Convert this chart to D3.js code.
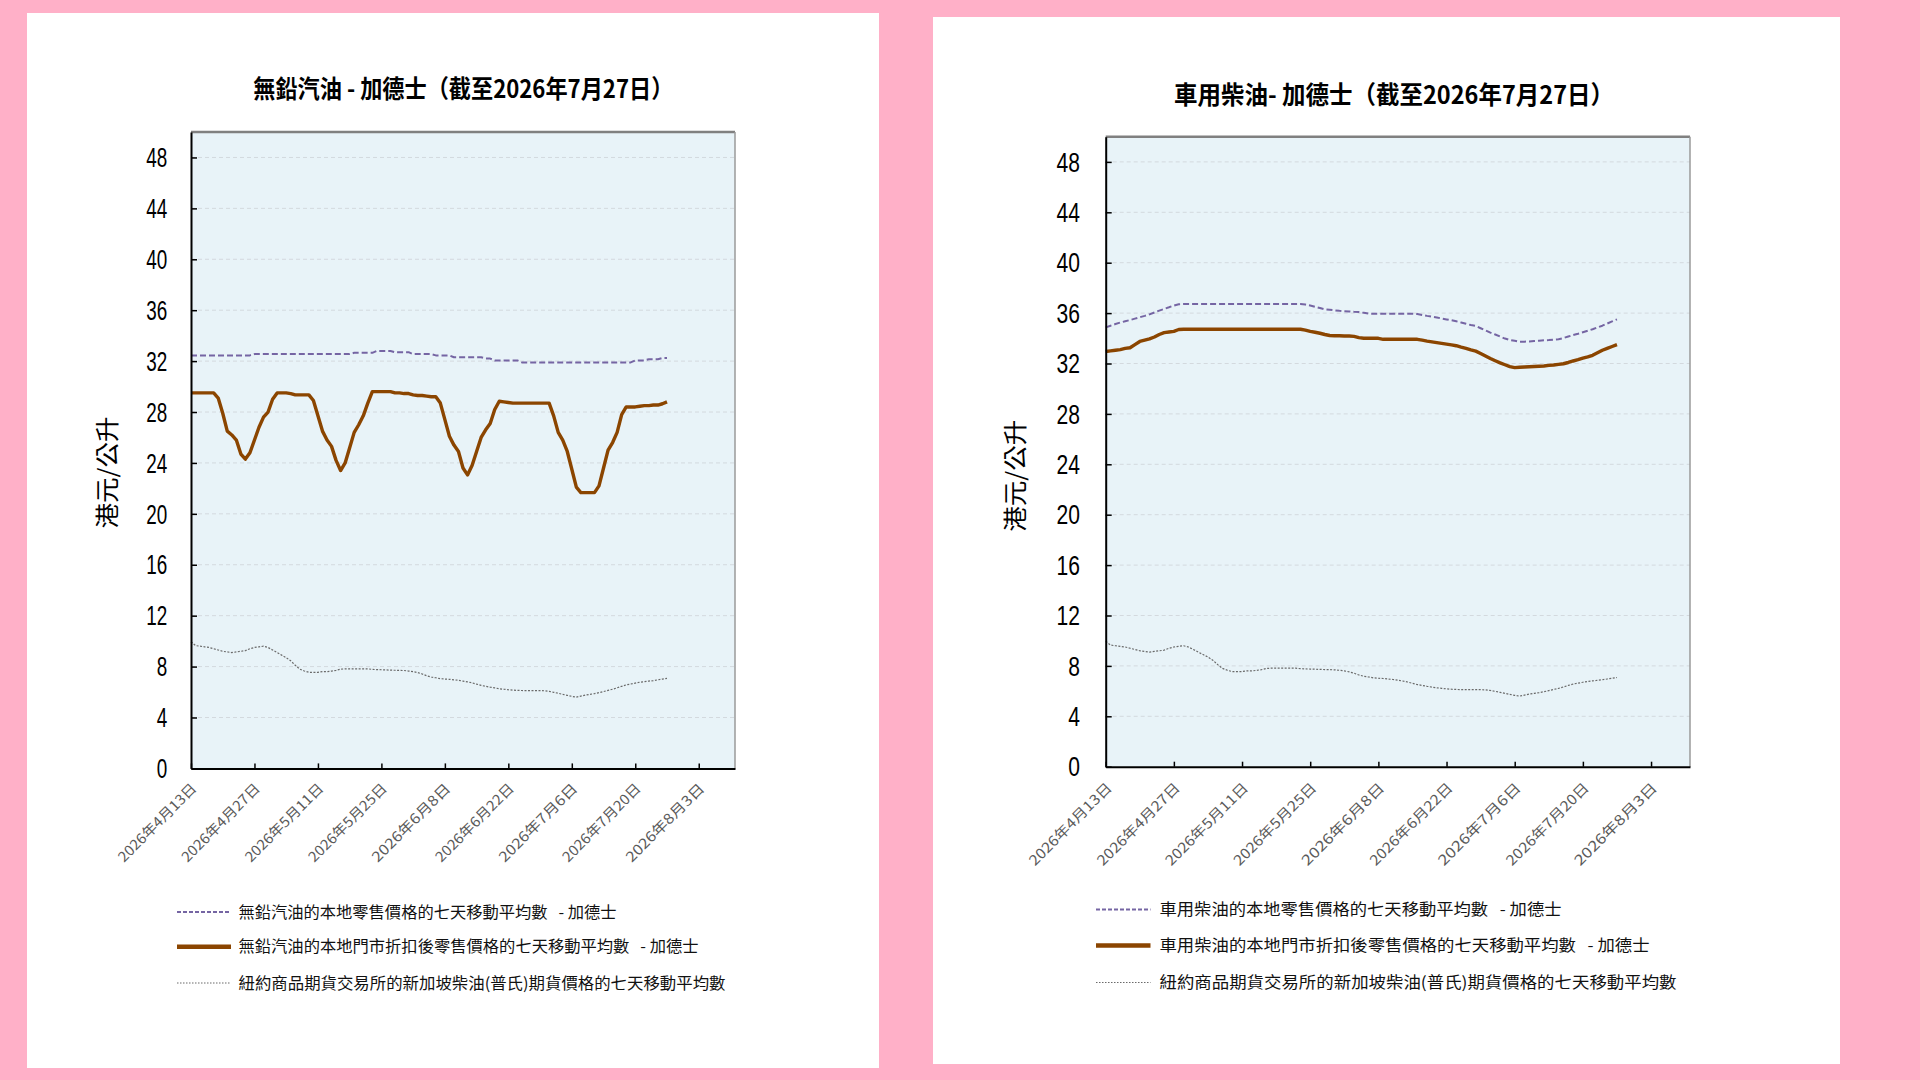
<!DOCTYPE html>
<html>
<head>
<meta charset="utf-8">
<script src="https://cdn.jsdelivr.net/npm/d3@7"></script>
<style>
  body { margin: 0; background: #ffb0c8; }
  svg { display: block; }
</style>
</head>
<body>
<div id="main"></div>
<script>
"use strict";

// ---- data ----
var dayDomain = ["2026-04-13", "2026-08-11"];
var firstDay = "2026-04-13", lastDay = "2026-07-27";
var tickDays = ["2026-04-13", "2026-04-27", "2026-05-11", "2026-05-25", "2026-06-08",
                "2026-06-22", "2026-07-06", "2026-07-20", "2026-08-03"];
var yTicks = [0, 4, 8, 12, 16, 20, 24, 28, 32, 36, 40, 44, 48];

var petrolRetail = [
  32.45, 32.45, 32.45, 32.45, 32.45, 32.45, 32.45, 32.45, 32.45, 32.45,
  32.45, 32.45, 32.45, 32.45, 32.55, 32.55, 32.55, 32.55, 32.55, 32.55,
  32.55, 32.55, 32.55, 32.55, 32.55, 32.55, 32.55, 32.55, 32.55, 32.55,
  32.55, 32.55, 32.55, 32.55, 32.55, 32.55, 32.65, 32.65, 32.65, 32.65,
  32.65, 32.8, 32.8, 32.8, 32.8, 32.7, 32.7, 32.7, 32.7, 32.55,
  32.55, 32.55, 32.55, 32.55, 32.45, 32.45, 32.45, 32.45, 32.3, 32.3,
  32.3, 32.3, 32.3, 32.3, 32.3, 32.2, 32.2, 32.05, 32.05, 32.05,
  32.05, 32.05, 32.05, 31.9, 31.9, 31.9, 31.9, 31.9, 31.9, 31.9,
  31.9, 31.9, 31.9, 31.9, 31.9, 31.9, 31.9, 31.9, 31.9, 31.9,
  31.9, 31.9, 31.9, 31.9, 31.9, 31.9, 31.9, 31.9, 32.05, 32.05,
  32.05, 32.15, 32.15, 32.15, 32.25, 32.25
];
var petrolDiscount = [
  29.5, 29.5, 29.5, 29.5, 29.5, 29.5, 29.1, 27.9, 26.5, 26.2,
  25.8, 24.7, 24.3, 24.8, 25.8, 26.8, 27.6, 28.0, 29.0, 29.5,
  29.5, 29.5, 29.45, 29.35, 29.35, 29.35, 29.35, 28.9, 27.7, 26.5,
  25.8, 25.3, 24.2, 23.4, 24.0, 25.2, 26.4, 27.0, 27.7, 28.7,
  29.6, 29.6, 29.6, 29.6, 29.6, 29.5, 29.5, 29.45, 29.45, 29.35,
  29.3, 29.3, 29.25, 29.2, 29.2, 28.7, 27.4, 26.1, 25.4, 24.9,
  23.6, 23.06, 23.8, 24.9, 26.0, 26.6, 27.1, 28.2, 28.85, 28.8,
  28.75, 28.7, 28.7, 28.7, 28.7, 28.7, 28.7, 28.7, 28.7, 28.7,
  27.7, 26.4, 25.8, 24.9, 23.5, 22.1, 21.67, 21.67, 21.67, 21.67,
  22.2, 23.6, 25.0, 25.6, 26.4, 27.8, 28.4, 28.4, 28.4, 28.45,
  28.5, 28.5, 28.55, 28.55, 28.65, 28.8
];
var dieselRetail = [
  34.87, 35.0, 35.13, 35.25, 35.35, 35.45, 35.56, 35.67, 35.78, 35.9,
  36.05, 36.2, 36.33, 36.46, 36.6, 36.7, 36.72, 36.72, 36.72, 36.72,
  36.72, 36.72, 36.72, 36.72, 36.72, 36.72, 36.72, 36.72, 36.72, 36.72,
  36.72, 36.72, 36.72, 36.72, 36.72, 36.72, 36.72, 36.72, 36.72, 36.72,
  36.72, 36.68, 36.6, 36.5, 36.4, 36.3, 36.26, 36.22, 36.18, 36.15,
  36.13, 36.1, 36.08, 36.02, 35.96, 35.95, 35.95, 35.95, 35.95, 35.95,
  35.95, 35.95, 35.95, 35.95, 35.92, 35.85, 35.78, 35.72, 35.65, 35.57,
  35.5, 35.43, 35.35, 35.25, 35.15, 35.05, 34.98, 34.8, 34.63, 34.45,
  34.3, 34.14, 33.98, 33.87, 33.8, 33.72, 33.73, 33.75, 33.78, 33.81,
  33.84, 33.86, 33.89, 33.92, 34.02, 34.14, 34.26, 34.36, 34.48, 34.6,
  34.72, 34.86, 35.0, 35.17, 35.34, 35.5
];
var dieselDiscount = [
  32.95, 33.0, 33.05, 33.1, 33.2, 33.25, 33.5, 33.75, 33.85, 33.95,
  34.1, 34.3, 34.45, 34.5, 34.55, 34.7, 34.72, 34.72, 34.72, 34.72,
  34.72, 34.72, 34.72, 34.72, 34.72, 34.72, 34.72, 34.72, 34.72, 34.72,
  34.72, 34.72, 34.72, 34.72, 34.72, 34.72, 34.72, 34.72, 34.72, 34.72,
  34.72, 34.65, 34.55, 34.48, 34.4, 34.3, 34.22, 34.2, 34.2, 34.18,
  34.18, 34.15, 34.05, 34.0, 34.0, 34.0, 34.0, 33.92, 33.92, 33.92,
  33.92, 33.92, 33.92, 33.92, 33.92, 33.85, 33.78, 33.72, 33.66, 33.6,
  33.54, 33.48, 33.41, 33.3, 33.2, 33.08, 32.98, 32.8, 32.6, 32.4,
  32.22, 32.05, 31.9, 31.75, 31.67, 31.7, 31.72, 31.74, 31.76, 31.78,
  31.8, 31.85, 31.88, 31.93, 31.98, 32.08, 32.2, 32.3, 32.42, 32.52,
  32.65, 32.85, 33.05, 33.2, 33.35, 33.5
];
var nymexGasoil = [
  9.95, 9.65, 9.6, 9.55, 9.5, 9.4, 9.3, 9.2, 9.15, 9.1,
  9.15, 9.2, 9.25, 9.4, 9.5, 9.55, 9.6, 9.5, 9.3, 9.1,
  8.9, 8.7, 8.45, 8.1, 7.8, 7.65, 7.55, 7.55, 7.55, 7.6,
  7.6, 7.65, 7.7, 7.8, 7.82, 7.82, 7.82, 7.82, 7.82, 7.82,
  7.78, 7.76, 7.75, 7.74, 7.72, 7.71, 7.7, 7.69, 7.65, 7.6,
  7.53, 7.42, 7.28, 7.18, 7.12, 7.05, 7.02, 7.0, 6.96, 6.92,
  6.86, 6.8, 6.72, 6.62, 6.52, 6.45, 6.38, 6.32, 6.26, 6.22,
  6.18, 6.15, 6.13, 6.12, 6.11, 6.11, 6.11, 6.11, 6.1, 6.05,
  5.98, 5.9, 5.82, 5.74, 5.66, 5.6, 5.68, 5.76, 5.82, 5.88,
  5.95, 6.04, 6.13, 6.22, 6.33, 6.45, 6.56, 6.63, 6.7, 6.77,
  6.81, 6.86, 6.9, 6.96, 7.02, 7.08
];

var petrolTitle = "無鉛汽油 - 加德士（截至2026年7月27日）";
var dieselTitle = "車用柴油- 加德士（截至2026年7月27日）";
var yLabel = "港元/公升";
var petrolLegend = [
  "無鉛汽油的本地零售價格的七天移動平均數\u00a0\u00a0\u00a0- 加德士",
  "無鉛汽油的本地門市折扣後零售價格的七天移動平均數\u00a0\u00a0\u00a0- 加德士",
  "紐約商品期貨交易所的新加坡柴油(普氏)期貨價格的七天移動平均數"
];
var dieselLegend = [
  "車用柴油的本地零售價格的七天移動平均數\u00a0\u00a0\u00a0- 加德士",
  "車用柴油的本地門市折扣後零售價格的七天移動平均數\u00a0\u00a0\u00a0- 加德士",
  "紐約商品期貨交易所的新加坡柴油(普氏)期貨價格的七天移動平均數"
];

// ---- setup ----
var parseDay = d3.timeParse("%Y-%m-%d");
var fmtTick = d3.timeFormat("%Y年%-m月%-d日");
var days = d3.timeDay.range(parseDay(firstDay), d3.timeDay.offset(parseDay(lastDay), 1));
var CJK = "'Noto Sans CJK TC', 'Noto Sans CJK SC', sans-serif";

var svg = d3.select("#main").append("svg")
    .attr("width", 1920).attr("height", 1080);
svg.append("rect").attr("width", 1920).attr("height", 1080).attr("fill", "#ffb0c8");

var lineStyles = [
  { color: "#7565a3", width: 2, dash: "6,3", legendWidth: 2 },
  { color: "#8b4500", width: 3.4, dash: null, legendWidth: 4.5 },
  { color: "#6a6a6a", width: 1.2, dash: "2,1.5", legendWidth: 1.2 }
];

function drawChart(c) {
  var g = svg.append("g");
  g.append("rect").attr("x", c.panel[0]).attr("y", c.panel[1])
    .attr("width", c.panel[2] - c.panel[0]).attr("height", c.panel[3] - c.panel[1])
    .attr("fill", "#ffffff");

  var x = d3.scaleTime().domain(dayDomain.map(parseDay)).range([c.left, c.right]);
  var y = d3.scaleLinear().domain([0, 50]).range([c.bottom, c.top]);

  g.append("rect").attr("x", c.left).attr("y", c.top)
    .attr("width", c.right - c.left).attr("height", c.bottom - c.top)
    .attr("fill", "#e8f3f8");

  g.append("g").selectAll("line").data(yTicks.filter(function (v) { return v > 0; }))
    .join("line")
    .attr("x1", c.left).attr("x2", c.right)
    .attr("y1", function (v) { return y(v); }).attr("y2", function (v) { return y(v); })
    .attr("stroke", "#d3d9de").attr("stroke-width", 1).attr("stroke-dasharray", "4,3");

  // top + right frame
  g.append("line").attr("x1", c.left).attr("x2", c.right).attr("y1", c.top).attr("y2", c.top)
    .attr("stroke", "#808080").attr("stroke-width", 2.5);
  g.append("line").attr("x1", c.right).attr("x2", c.right).attr("y1", c.top).attr("y2", c.bottom)
    .attr("stroke", "#9a9a9a").attr("stroke-width", 1.5);

  var line = d3.line()
    .x(function (d, i) { return x(days[i]); })
    .y(function (d) { return y(d); });

  c.series.forEach(function (s, i) {
    var st = lineStyles[i];
    g.append("path").datum(s)
      .attr("fill", "none")
      .attr("stroke", st.color)
      .attr("stroke-width", st.width)
      .attr("stroke-dasharray", st.dash)
      .attr("stroke-linejoin", "round")
      .attr("d", line);
  });

  // y axis
  var ya = g.append("g").attr("transform", "translate(" + c.left + ",0)")
    .call(d3.axisLeft(y).tickValues(yTicks).tickSizeInner(-6).tickSizeOuter(0));
  ya.select(".domain").attr("stroke", "#000").attr("stroke-width", 2);
  ya.selectAll(".tick line").attr("stroke", "#000").attr("stroke-width", 1.5);
  ya.selectAll(".tick text")
    .attr("x", 0).attr("dy", "0.34em")
    .attr("transform", "translate(" + (-c.yPad) + ",0) scale(" + c.yScaleX + ",1)")
    .attr("fill", "#000")
    .style("font-family", "'Liberation Sans', Arial, sans-serif")
    .style("font-size", "27px");

  // x axis
  var xa = g.append("g").attr("transform", "translate(0," + c.bottom + ")")
    .call(d3.axisBottom(x).tickValues(tickDays.map(parseDay)).tickFormat(fmtTick)
      .tickSizeInner(-5).tickSizeOuter(0));
  xa.select(".domain").attr("stroke", "#000").attr("stroke-width", 2);
  xa.selectAll(".tick line").attr("stroke", "#000").attr("stroke-width", 1.5);
  xa.selectAll(".tick text")
    .attr("x", 0).attr("y", 0).attr("dy", 0)
    .attr("transform", "translate(" + c.xLab[0] + "," + c.xLab[1] + ") rotate(-45)")
    .attr("text-anchor", "end")
    .attr("fill", "#5a5a5a")
    .attr("textLength", c.xLabLen).attr("lengthAdjust", "spacingAndGlyphs")
    .style("font-family", CJK)
    .style("font-size", "14px");

  // title
  g.append("text").attr("x", c.titlePos[0]).attr("y", c.titlePos[1])
    .attr("text-anchor", "middle")
    .attr("textLength", c.titleLen).attr("lengthAdjust", "spacingAndGlyphs")
    .style("font-family", CJK).style("font-weight", "bold").style("font-size", "25px")
    .attr("fill", "#000")
    .text(c.title);

  // y label
  g.append("text")
    .attr("transform", "translate(" + c.yLabPos[0] + "," + c.yLabPos[1] + ") rotate(-90)")
    .attr("text-anchor", "middle")
    .attr("textLength", 112).attr("lengthAdjust", "spacingAndGlyphs")
    .style("font-family", CJK).style("font-size", "24px")
    .attr("fill", "#000")
    .text(yLabel);

  // legend
  c.legend.forEach(function (label, i) {
    var st = lineStyles[i];
    var ly = c.legRows[i];
    g.append("line").attr("x1", c.legLine[0]).attr("x2", c.legLine[1])
      .attr("y1", ly).attr("y2", ly)
      .attr("stroke", st.color).attr("stroke-width", st.legendWidth)
      .attr("stroke-dasharray", i === 0 ? "4,2" : (i === 2 ? "1.5,1.5" : null));
    g.append("text").attr("x", c.legText).attr("y", ly).attr("dy", "0.36em")
      .attr("textLength", c.legLens[i]).attr("lengthAdjust", "spacingAndGlyphs")
      .style("font-family", CJK).style("font-size", "16px")
      .attr("fill", "#111")
      .text(label);
  });
}

drawChart({
  panel: [27, 13, 879, 1068],
  left: 191, right: 735, top: 132, bottom: 768.4,
  series: [petrolRetail, petrolDiscount, nymexGasoil],
  yPad: 23.7, yScaleX: 0.7,
  xLab: [6, 21], xLabLen: 104,
  title: petrolTitle, titlePos: [463.3, 98], titleLen: 420,
  yLabPos: [115.7, 472.5],
  legend: petrolLegend, legRows: [912, 946.7, 983], legLine: [177, 231],
  legText: 238.5, legLens: [378, 460, 487]
});

drawChart({
  panel: [933, 17, 1840, 1064],
  left: 1105.7, right: 1690, top: 136.7, bottom: 766.7,
  series: [dieselRetail, dieselDiscount, nymexGasoil],
  yPad: 25.7, yScaleX: 0.78,
  xLab: [6.5, 22], xLabLen: 110,
  title: dieselTitle, titlePos: [1394, 103.5], titleLen: 440,
  yLabPos: [1024, 475.8],
  legend: dieselLegend, legRows: [909.5, 945.5, 982.5], legLine: [1096, 1150.5],
  legText: 1159.5, legLens: [402, 490, 517]
});
</script>
</body>
</html>
